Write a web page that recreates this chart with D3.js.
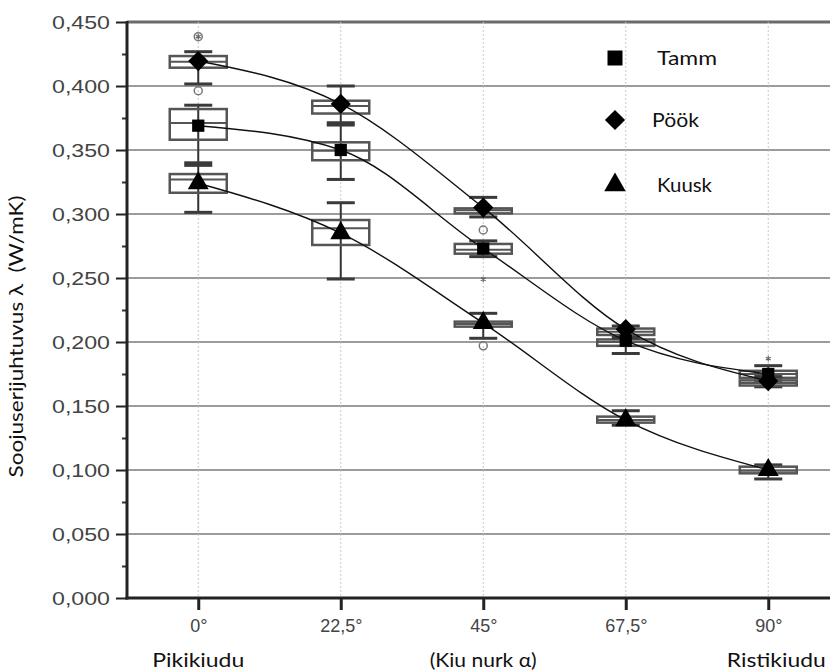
<!DOCTYPE html>
<html>
<head>
<meta charset="utf-8">
<script src="https://cdn.jsdelivr.net/npm/d3@7"></script>
<style>
  html, body { margin: 0; padding: 0; background: #fff; }
  svg { display: block; }
</style>
</head>
<body>
<svg id="chart" width="830" height="672"></svg>
<script>
// Fibre angle categories and wood species
const angleLabels = ["0°", "22,5°", "45°", "67,5°", "90°"];
const speciesNames = ["Tamm", "Pöök", "Kuusk"];

// Thermal conductivity λ (W/mK) per angle: mean, box (q1, median, q3), whiskers
const tammMean = [0.369, 0.350, 0.273, 0.201, 0.175];
const tammQ1   = [0.358, 0.342, 0.269, 0.197, 0.172];
const tammMed  = [0.371, 0.3495, 0.272, 0.200, 0.175];
const tammQ3   = [0.382, 0.356, 0.2766, 0.202, 0.1775];
const tammLo   = [0.340, 0.327, 0.2667, 0.191, 0.170];
const tammHi   = [0.385, 0.3695, 0.279, 0.205, 0.1815];

const pookMean = [0.4195, 0.386, 0.305, 0.210, 0.1695];
const pookQ1   = [0.4143, 0.3785, 0.3005, 0.2055, 0.166];
const pookMed  = [0.419, 0.3844, 0.303, 0.208, 0.168];
const pookQ3   = [0.4234, 0.3885, 0.3044, 0.2105, 0.170];
const pookLo   = [0.4016, 0.3713, 0.2977, 0.203, 0.165];
const pookHi   = [0.4268, 0.400, 0.313, 0.2125, 0.173];

const kuuskMean = [0.324, 0.285, 0.2148, 0.139, 0.100];
const kuuskQ1   = [0.3166, 0.2758, 0.212, 0.137, 0.0974];
const kuuskMed  = [0.327, 0.2888, 0.214, 0.139, 0.0995];
const kuuskQ3   = [0.3312, 0.2953, 0.2159, 0.1417, 0.1026];
const kuuskLo   = [0.3013, 0.2492, 0.2029, 0.135, 0.093];
const kuuskHi   = [0.338, 0.3088, 0.2224, 0.1463, 0.104];

// Outlying measurements: [angle, value]
const circleOutliers = [["0°", 0.4385], ["0°", 0.3963], ["45°", 0.2875], ["45°", 0.197]];
const starOutliers   = [["0°", 0.4385], ["45°", 0.249], ["90°", 0.187]];

// Axis ticks
const yMajorTicks = [0, 0.05, 0.10, 0.15, 0.20, 0.25, 0.30, 0.35, 0.40, 0.45];
const yMinorTicks = [0.025, 0.075, 0.125, 0.175, 0.225, 0.275, 0.325, 0.375, 0.425];

const seriesData = [
  { name: "Tamm",  symbol: d3.symbolSquare,   size: 150, legendSize: 225,
    mean: tammMean, q1: tammQ1, med: tammMed, q3: tammQ3, lo: tammLo, hi: tammHi },
  { name: "Pöök",  symbol: d3.symbolDiamond2, size: 260, legendSize: 260,
    mean: pookMean, q1: pookQ1, med: pookMed, q3: pookQ3, lo: pookLo, hi: pookHi },
  { name: "Kuusk", symbol: d3.symbolTriangle, size: 190, legendSize: 200,
    mean: kuuskMean, q1: kuuskQ1, med: kuuskMed, q3: kuuskQ3, lo: kuuskLo, hi: kuuskHi }
];

const svg = d3.select("#chart");
const plotLeft = 127, plotTop = 22, plotBottom = 598;

const x = d3.scalePoint().domain(angleLabels).range([plotLeft, 839.5]).padding(0.5);
const y = d3.scaleLinear().domain([0, 0.45]).range([plotBottom, plotTop]);

const locale = d3.formatLocale({ decimal: ",", thousands: " ", grouping: [3], currency: ["", " €"] });
const fmt = locale.format(".3f");

// Horizontal grid
svg.append("g")
  .selectAll("line")
  .data(yMajorTicks.filter(v => v > 0 && v < 0.45))
  .join("line")
  .attr("x1", plotLeft).attr("x2", 830)
  .attr("y1", d => y(d)).attr("y2", d => y(d))
  .attr("stroke", "#9c9c9c").attr("stroke-width", 2);

// Top frame line
svg.append("line")
  .attr("x1", plotLeft).attr("x2", 830)
  .attr("y1", y(0.45)).attr("y2", y(0.45))
  .attr("stroke", "#6a6a6a").attr("stroke-width", 3);

// Vertical dotted guides at each angle
svg.append("g")
  .selectAll("line")
  .data(angleLabels)
  .join("line")
  .attr("x1", d => x(d)).attr("x2", d => x(d))
  .attr("y1", plotTop).attr("y2", plotBottom)
  .attr("stroke", "#c8c8c8").attr("stroke-width", 1)
  .attr("stroke-dasharray", "2,2");

// Box plots
const boxW = 57, capW = 28;
const boxes = svg.append("g");
seriesData.forEach(s => {
  angleLabels.forEach((a, i) => {
    const cx = x(a);
    const g = boxes.append("g");
    g.append("line")
      .attr("x1", cx).attr("x2", cx)
      .attr("y1", y(s.lo[i])).attr("y2", y(s.hi[i]))
      .attr("stroke", "#333").attr("stroke-width", 2);
    [s.lo[i], s.hi[i]].forEach(v => {
      g.append("line")
        .attr("x1", cx - capW / 2).attr("x2", cx + capW / 2)
        .attr("y1", y(v)).attr("y2", y(v))
        .attr("stroke", "#3a3a3a").attr("stroke-width", 3);
    });
    g.append("rect")
      .attr("x", cx - boxW / 2).attr("width", boxW)
      .attr("y", y(s.q3[i])).attr("height", y(s.q1[i]) - y(s.q3[i]))
      .attr("fill", "none").attr("stroke", "#555").attr("stroke-width", 2.5);
    g.append("line")
      .attr("x1", cx - boxW / 2).attr("x2", cx + boxW / 2)
      .attr("y1", y(s.med[i])).attr("y2", y(s.med[i]))
      .attr("stroke", "#555").attr("stroke-width", 2);
  });
});

// Outliers
svg.append("g")
  .selectAll("circle")
  .data(circleOutliers)
  .join("circle")
  .attr("cx", d => x(d[0])).attr("cy", d => y(d[1]))
  .attr("r", 4)
  .attr("fill", "none").attr("stroke", "#777").attr("stroke-width", 1.5);

svg.append("g")
  .selectAll("path")
  .data(starOutliers)
  .join("path")
  .attr("transform", d => `translate(${x(d[0])},${y(d[1])})`)
  .attr("d", d3.symbol(d3.symbolAsterisk).size(22))
  .attr("fill", "none").attr("stroke", "#666").attr("stroke-width", 1.2);

// Trend curves through the means
const curve = d3.line()
  .x((d, i) => x(angleLabels[i]))
  .y(d => y(d))
  .curve(d3.curveMonotoneX);

svg.append("g")
  .selectAll("path")
  .data(seriesData)
  .join("path")
  .attr("d", s => curve(s.mean))
  .attr("fill", "none").attr("stroke", "#111").attr("stroke-width", 1.4);

// Mean markers
seriesData.forEach(s => {
  svg.append("g")
    .selectAll("path")
    .data(s.mean)
    .join("path")
    .attr("transform", (d, i) => `translate(${x(angleLabels[i])},${y(d)})`)
    .attr("d", d3.symbol(s.symbol).size(s.size))
    .attr("fill", "#000");
});

// Y axis with major and minor ticks
const yAxis = svg.append("g")
  .attr("transform", `translate(${plotLeft},0)`)
  .call(d3.axisLeft(y).tickValues(yMajorTicks).tickSize(11).tickPadding(6).tickFormat(fmt));
yAxis.select(".domain").remove();
yAxis.selectAll(".tick line").attr("stroke", "#222").attr("stroke-width", 2);
yAxis.selectAll(".tick text")
  .attr("fill", "#444")
  .attr("font-family", "'Liberation Sans', Arial, sans-serif")
  .attr("font-size", 19)
  .attr("textLength", 58)
  .attr("lengthAdjust", "spacingAndGlyphs");

const yMinor = svg.append("g")
  .attr("transform", `translate(${plotLeft},0)`)
  .call(d3.axisLeft(y).tickValues(yMinorTicks).tickSize(5).tickFormat(""));
yMinor.select(".domain").remove();
yMinor.selectAll(".tick line").attr("stroke", "#333").attr("stroke-width", 2);

// X axis
const xAxis = svg.append("g")
  .attr("transform", `translate(0,${plotBottom})`)
  .call(d3.axisBottom(x).tickSize(12).tickPadding(9));
xAxis.select(".domain").remove();
xAxis.selectAll(".tick line").attr("stroke", "#222").attr("stroke-width", 3);
xAxis.selectAll(".tick text")
  .attr("fill", "#444")
  .attr("font-family", "'Liberation Sans', Arial, sans-serif")
  .attr("font-size", 18);

// Axis lines
svg.append("line")
  .attr("x1", plotLeft).attr("x2", plotLeft)
  .attr("y1", plotTop - 1).attr("y2", plotBottom + 1.5)
  .attr("stroke", "#222").attr("stroke-width", 3);
svg.append("line")
  .attr("x1", plotLeft - 1.5).attr("x2", 830)
  .attr("y1", plotBottom).attr("y2", plotBottom)
  .attr("stroke", "#222").attr("stroke-width", 3);

// Axis titles
const labelFont = "Lato, 'Open Sans', sans-serif";
svg.append("text")
  .attr("transform", `translate(23,${(195 + 478) / 2}) rotate(-90)`)
  .attr("text-anchor", "middle")
  .attr("font-family", labelFont)
  .attr("font-size", 19)
  .attr("fill", "#111")
  .attr("textLength", 282)
  .attr("lengthAdjust", "spacingAndGlyphs")
  .text("Soojuserijuhtuvus λ\u00A0 (W/mK)");

const bottomLabels = [
  { text: "Pikikiudu",    at: "0°",  dx: 0, len: 92 },
  { text: "(Kiu nurk α)", at: "45°", dx: 0, len: 107 },
  { text: "Ristikiudu",   at: "90°", dx: 8, len: 99 }
];
svg.append("g")
  .selectAll("text")
  .data(bottomLabels)
  .join("text")
  .attr("x", d => x(d.at) + d.dx)
  .attr("y", 667)
  .attr("text-anchor", "middle")
  .attr("font-family", labelFont)
  .attr("font-size", 20)
  .attr("fill", "#111")
  .attr("textLength", d => d.len)
  .attr("lengthAdjust", "spacingAndGlyphs")
  .text(d => d.text);

// Legend
const legendRows = [58, 120, 185];
const legendText = [
  { x: 657, len: 60 },
  { x: 652, len: 47 },
  { x: 657, len: 55 }
];
const legend = svg.append("g");
seriesData.forEach((s, i) => {
  legend.append("path")
    .attr("transform", `translate(615,${legendRows[i]})`)
    .attr("d", d3.symbol(s.symbol).size(s.legendSize))
    .attr("fill", "#000");
  legend.append("text")
    .attr("x", legendText[i].x)
    .attr("y", legendRows[i])
    .attr("dy", "0.35em")
    .attr("font-family", labelFont)
    .attr("font-size", 20)
    .attr("fill", "#111")
    .attr("textLength", legendText[i].len)
    .attr("lengthAdjust", "spacingAndGlyphs")
    .text(s.name);
});
</script>
</body>
</html>
